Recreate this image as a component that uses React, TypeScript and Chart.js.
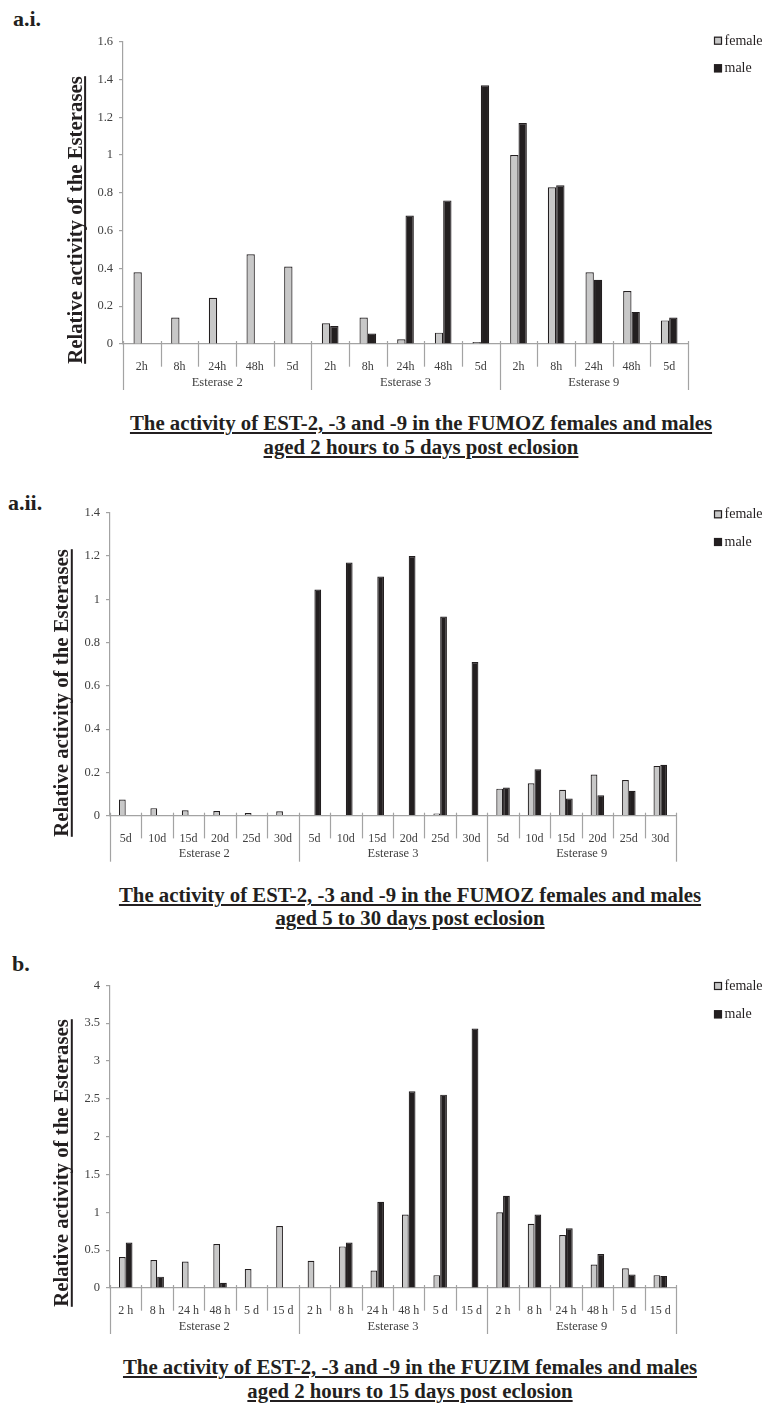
import React, { useEffect, useRef } from 'react';
import { Chart, registerables } from 'chart.js';

Chart.register(...registerables);

const SERIF = "'Liberation Serif', 'Times New Roman', Times, serif";
const AXIS = '#a3a3a3';
const TICK = '#404040';
const INK = '#231f20';
const FEMALE = '#c8c8c8';
const MALE = '#231f20';

const groupNames = ['Esterase 2', 'Esterase 3', 'Esterase 9'];
const seriesNames = ['female', 'male'];
const yTitle = 'Relative activity of the Esterases';

// Panel a.i
const aiTimes = ['2h', '8h', '24h', '48h', '5d'];
const aiFemale = [0.38, 0.14, 0.245, 0.475, 0.41, 0.11, 0.14, 0.025, 0.06, 0.01, 1.0, 0.83, 0.38, 0.28, 0.125];
const aiMale = [0, 0, 0, 0, 0, 0.095, 0.055, 0.68, 0.76, 1.37, 1.17, 0.84, 0.34, 0.17, 0.14];

// Panel a.ii
const aiiTimes = ['5d', '10d', '15d', '20d', '25d', '30d'];
const aiiFemale = [0.075, 0.035, 0.025, 0.022, 0.012, 0.02, 0, 0, 0, 0, 0.01, 0, 0.125, 0.15, 0.12, 0.19, 0.165, 0.23];
const aiiMale = [0, 0, 0, 0, 0, 0, 1.045, 1.17, 1.105, 1.2, 0.92, 0.71, 0.13, 0.215, 0.08, 0.095, 0.115, 0.235];

// Panel b
const bTimes = ['2 h', '8 h', '24 h', '48 h', '5 d', '15 d'];
const bFemale = [0.41, 0.37, 0.35, 0.58, 0.25, 0.82, 0.36, 0.55, 0.23, 0.97, 0.17, 0, 1.0, 0.85, 0.7, 0.31, 0.26, 0.17];
const bMale = [0.6, 0.15, 0, 0.07, 0, 0, 0, 0.6, 1.14, 2.6, 2.555, 3.43, 1.22, 0.97, 0.79, 0.45, 0.18, 0.16];

type PanelProps = {
  top: number;
  height: number;
  area: { left: number; right: number; top: number; bottom: number };
  times: string[];
  female: number[];
  male: number[];
  yMax: number;
  step: number;
  catPct: number;
  titleX: number;
  titleCy: number;
  legendX: number;
  legendY: number[];
};

function Panel(p: PanelProps) {
  const ref = useRef<HTMLCanvasElement>(null);
  useEffect(() => {
    const canvas = ref.current!;
    const labels = groupNames.flatMap(() => p.times);
    const per = p.times.length;
    const areaTop = p.area.top - p.top;
    const areaBottom = p.area.bottom - p.top;
    const decor = {
      id: 'decor',
      afterDraw(chart: any) {
        const ctx = chart.ctx as CanvasRenderingContext2D;
        const { left, right, bottom } = chart.chartArea;
        const n = labels.length;
        const w = (right - left) / n;
        ctx.save();
        ctx.strokeStyle = AXIS;
        ctx.lineWidth = 1.2;
        for (let i = 0; i <= n; i++) {
          const x = Math.round(left + i * w) + 0.5;
          const long = i % per === 0;
          ctx.beginPath();
          ctx.moveTo(x, bottom - 3);
          ctx.lineTo(x, bottom + (long ? 46 : 22.7));
          ctx.stroke();
        }
        ctx.fillStyle = TICK;
        ctx.font = `12.5px ${SERIF}`;
        ctx.textAlign = 'center';
        ctx.textBaseline = 'middle';
        for (let g = 0; g < groupNames.length; g++) {
          ctx.fillText(groupNames[g], left + (g * per + per / 2) * w, bottom + 38.3);
        }
        // legend
        ctx.font = `14px ${SERIF}`;
        ctx.textAlign = 'left';
        chart.data.datasets.forEach((ds: any, i: number) => {
          const cy = p.legendY[i] - p.top;
          ctx.fillStyle = ds.backgroundColor;
          ctx.fillRect(p.legendX, cy - 4, 8, 8);
          ctx.strokeStyle = INK;
          ctx.lineWidth = 1.2;
          ctx.strokeRect(p.legendX + 0.5, cy - 3.5, 7, 7);
          ctx.fillStyle = INK;
          ctx.fillText(ds.label, p.legendX + 10.5, cy + 0.5);
        });
        // y title
        ctx.translate(p.titleX, p.titleCy - p.top);
        ctx.rotate(-Math.PI / 2);
        ctx.font = `bold 20.8px ${SERIF}`;
        ctx.textAlign = 'center';
        ctx.textBaseline = 'alphabetic';
        ctx.fillStyle = INK;
        ctx.fillText(yTitle, 0, 0);
        const tw = ctx.measureText(yTitle).width;
        ctx.fillRect(-tw / 2, 2.4, tw, 2);
        ctx.restore();
      },
    };
    const chart = new Chart(canvas, {
      type: 'bar',
      data: {
        labels,
        datasets: [
          {
            label: seriesNames[0],
            data: p.female,
            backgroundColor: FEMALE,
            borderColor: INK,
            borderWidth: 1.2,
            categoryPercentage: p.catPct,
            barPercentage: 1,
          },
          {
            label: seriesNames[1],
            data: p.male,
            backgroundColor: MALE,
            borderColor: INK,
            borderWidth: 1.2,
            categoryPercentage: p.catPct,
            barPercentage: 1,
          },
        ],
      },
      options: {
        responsive: false,
        animation: false,
        devicePixelRatio: 1,
        layout: { padding: { left: 0, right: 764 - p.area.right, top: areaTop, bottom: 0 } },
        plugins: {
          legend: { display: false },
          tooltip: { enabled: false },
        },
        scales: {
          x: {
            type: 'category',
            grid: { display: false },
            border: { display: true, color: AXIS, width: 1.2 },
            ticks: {
              font: { family: SERIF, size: 12 },
              color: TICK,
              padding: 8,
              autoSkip: false,
              maxRotation: 0,
            },
            afterFit: (s: any) => {
              s.height = p.height - areaBottom;
            },
          },
          y: {
            min: 0,
            max: p.yMax,
            ticks: {
              stepSize: p.step,
              font: { family: SERIF, size: 12.5 },
              color: TICK,
              padding: 6,
              callback: (v: any) => String(Math.round(Number(v) * 100) / 100),
            },
            grid: { drawOnChartArea: false, drawTicks: true, tickLength: 4, color: AXIS, lineWidth: 1.2 },
            border: { color: AXIS, width: 1.2 },
            afterFit: (s: any) => {
              s.width = p.area.left;
            },
          },
        },
      } as any,
      plugins: [decor],
    });
    return () => chart.destroy();
  }, []);
  return (
    <canvas
      ref={ref}
      width={764}
      height={p.height}
      style={{ position: 'absolute', left: 0, top: p.top, width: 764, height: p.height }}
    />
  );
}

const captionStyle = (cx: number, baseline: number): React.CSSProperties => ({
  position: 'absolute',
  left: cx - 360,
  width: 720,
  top: baseline - 18.7,
  fontFamily: SERIF,
  fontWeight: 'bold',
  fontSize: '20.8px',
  lineHeight: '23.3px',
  textAlign: 'center',
  textDecoration: 'underline',
  textDecorationThickness: '2px',
  textUnderlineOffset: '2px',
  color: INK,
  whiteSpace: 'nowrap',
});

const labelStyle = (left: number, top: number): React.CSSProperties => ({
  position: 'absolute',
  left,
  top,
  fontFamily: SERIF,
  fontWeight: 'bold',
  fontSize: '22px',
  lineHeight: '22px',
  color: INK,
});

export default function App() {
  return (
    <div style={{ position: 'absolute', left: 0, top: 0, width: 764, height: 1404, background: '#fff', overflow: 'hidden' }}>
      <div style={labelStyle(13, 7.6)}>a.i.</div>
      <Panel
        top={0}
        height={400}
        area={{ left: 123, right: 688, top: 41.7, bottom: 344 }}
        times={aiTimes}
        female={aiFemale}
        male={aiMale}
        yMax={1.6}
        step={0.2}
        catPct={0.443}
        titleX={81.7}
        titleCy={220}
        legendX={714}
        legendY={[40.7, 68.3]}
      />
      <div style={captionStyle(421, 430)}>
        The activity of EST-2, -3 and -9 in the FUMOZ females and males
        <br />
        aged 2 hours to 5 days post eclosion
      </div>

      <div style={labelStyle(8, 491.6)}>a.ii.</div>
      <Panel
        top={470}
        height={400}
        area={{ left: 110, right: 676, top: 512.7, bottom: 815.7 }}
        times={aiiTimes}
        female={aiiFemale}
        male={aiiMale}
        yMax={1.4}
        step={0.2}
        catPct={0.43}
        titleX={68.4}
        titleCy={693}
        legendX={714}
        legendY={[514.3, 542]}
      />
      <div style={captionStyle(410, 901.7)}>
        The activity of EST-2, -3 and -9 in the FUMOZ females and males
        <br />
        aged 5 to 30 days post eclosion
      </div>

      <div style={labelStyle(12, 953.3)}>b.</div>
      <Panel
        top={940}
        height={400}
        area={{ left: 110, right: 676, top: 985.3, bottom: 1288 }}
        times={bTimes}
        female={bFemale}
        male={bMale}
        yMax={4}
        step={0.5}
        catPct={0.43}
        titleX={68.4}
        titleCy={1163}
        legendX={714}
        legendY={[986, 1014.3]}
      />
      <div style={captionStyle(410, 1374)}>
        The activity of EST-2, -3 and -9 in the FUZIM females and males
        <br />
        aged 2 hours to 15 days post eclosion
      </div>
    </div>
  );
}
